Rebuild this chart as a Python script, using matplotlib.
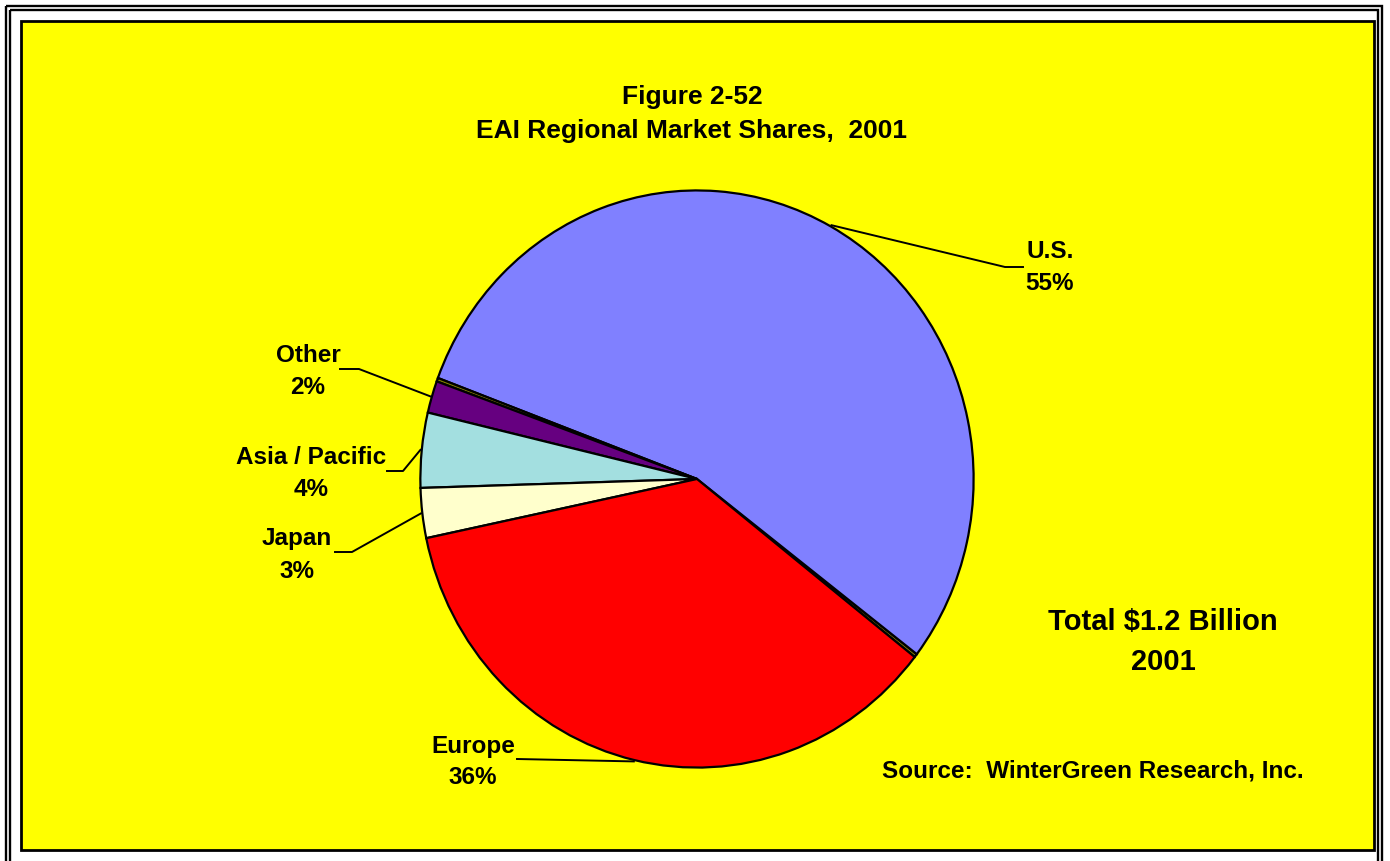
import numpy as np
import matplotlib.pyplot as plt
from matplotlib.patches import Rectangle

plt.rcParams['font.family'] = ['Liberation Sans', 'DejaVu Sans']
plt.rcParams['font.weight'] = 'bold'

# -----------------------------
# DATA (slices in drawing order, counter-clockwise)
# -----------------------------
slice_names = ["", "U.S.", "", "Other", "Asia / Pacific", "Japan", "Europe"]
slice_values = [0.2, 54.8, 0.2, 1.8, 4.2, 2.8, 36.2]
slice_pct = [None, 55, None, 2, 4, 3, 36]
slice_colors = ["#808000", "#8080FF", "#808000", "#660080", "#A3DFE0", "#FFFFCC", "#FF0000"]

title_lines = ["Figure 2-52", "EAI Regional Market Shares,  2001"]
total_lines = ["Total $1.2 Billion", "2001"]
source_text = "Source:  WinterGreen Research, Inc."

# -----------------------------
# LAYOUT (pixels)
# -----------------------------
W, H = 1390, 861
cx, cy, rx, ry = 697, 479, 278, 290
start_angle = -38.1

# label centre, elbow point, line end
label_layout = {
    "U.S.": ((1050, 268), (1005, 267), (1023, 267)),
    "Other": ((308, 371), (359, 369), (340, 369)),
    "Asia / Pacific": ((311, 474), (403, 471), (387, 471)),
    "Japan": ((297, 555), (352, 552), (335, 552)),
    "Europe": ((473, 762), (517, 759), (517, 759)),
}

fig = plt.figure(figsize=(W / 100, H / 100), dpi=100)
fig.patch.set_facecolor("white")

# overlay axes in pixel coordinates for frame, texts, leader lines
bg = fig.add_axes([0, 0, 1, 1])
bg.set_xlim(0, W)
bg.set_ylim(H, 0)
bg.axis("off")

bg.add_patch(Rectangle((6, 6), 1376, 870, fill=False, ec="black", lw=1.7))
bg.add_patch(Rectangle((10, 10), 1368, 862, fill=False, ec="black", lw=1.7))
bg.add_patch(Rectangle((21, 21), 1353, 829, fc="#FFFF00", ec="black", lw=2.0))

# pie axes stretched to the slightly taller ellipse
ax = fig.add_axes([(cx - rx) / W, (H - cy - ry) / H, 2 * rx / W, 2 * ry / H])
wedges, _ = ax.pie(slice_values, colors=slice_colors, startangle=start_angle,
                   counterclock=True, radius=1,
                   wedgeprops=dict(edgecolor="black", linewidth=1.6))
ax.set_aspect("auto")
ax.set_xlim(-1.005, 1.005)
ax.set_ylim(-1.005, 1.005)
ax.axis("off")

# -----------------------------
# LABELS + LEADER LINES
# -----------------------------
for w, name, pct in zip(wedges, slice_names, slice_pct):
    if pct is None:
        continue
    mid = np.deg2rad((w.theta1 + w.theta2) / 2)
    ex = cx + rx * np.cos(mid)
    ey = cy - ry * np.sin(mid)
    (tx, ty), (bx, by), (lx, ly) = label_layout[name]
    bg.plot([ex, bx, lx], [ey, by, ly], color="black", lw=1.4, zorder=5)
    bg.text(tx, ty, f"{name}\n{pct}%", ha="center", va="center",
            multialignment="center", fontsize=17.5, fontweight="bold",
            linespacing=1.5, zorder=6)

bg.text(692, 114, "\n".join(title_lines), ha="center", va="center",
        fontsize=19, fontweight="bold", linespacing=1.55)
bg.text(1163, 642, "\n".join(total_lines), ha="center", va="center",
        fontsize=21, fontweight="bold", linespacing=1.5)
bg.text(1093, 771, source_text, ha="center", va="center",
        fontsize=17.5, fontweight="bold")

# draw pie above background axes
ax.set_zorder(2)
bg.set_zorder(1)

fig.savefig("out.png", dpi=100)
